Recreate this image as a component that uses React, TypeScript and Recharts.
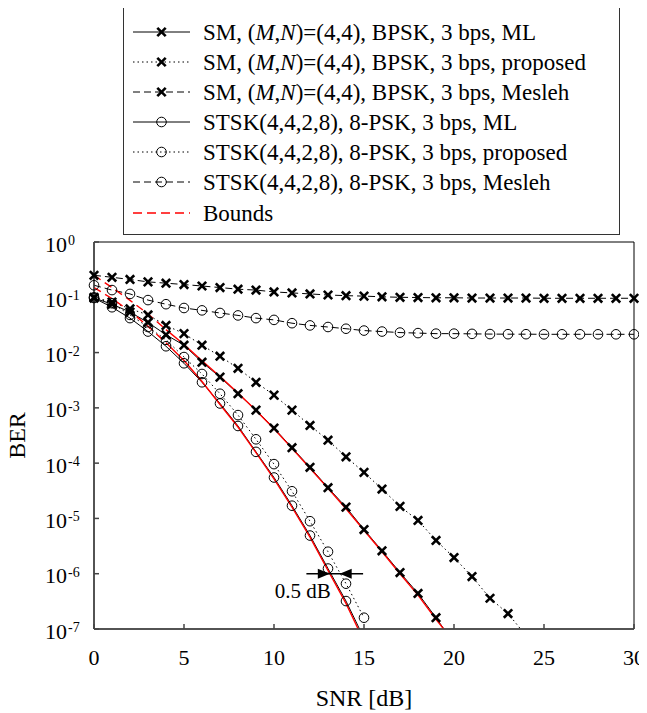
import React from 'react';
import {
  LineChart,
  Line,
  Scatter,
  XAxis,
  YAxis,
  Legend,
  ReferenceArea,
  ReferenceLine,
  ReferenceDot,
} from 'recharts';

const FONT = '"Liberation Serif", "Times New Roman", serif';

// SNR grid in dB, one point per dB
const snrDb = [0, 1, 2, 3, 4, 5, 6, 7, 8, 9, 10, 11, 12, 13, 14, 15, 16, 17, 18, 19, 20, 21, 22, 23, 24, 25, 26, 27, 28, 29, 30];

const xTicks = [0, 5, 10, 15, 20, 25, 30];
const yTicks = [1, 1e-1, 1e-2, 1e-3, 1e-4, 1e-5, 1e-6, 1e-7];

// BER
const smMl = [0.097, 0.075, 0.054, 0.035, 0.021, 0.0136, 0.0067, 0.0036, 0.0018, 9.1e-4, 4.3e-4, 1.9e-4, 8.4e-5, 3.6e-5, 1.6e-5, 6.3e-6, 2.6e-6, 1.05e-6, 4.4e-7, 1.6e-7, 5.5e-8];
const smProposed = [0.1, 0.082, 0.062, 0.048, 0.031, 0.022, 0.0136, 0.0086, 0.0052, 0.0029, 0.0017, 9.1e-4, 4.8e-4, 2.6e-4, 1.3e-4, 6.8e-5, 3.4e-5, 1.65e-5, 9.2e-6, 4.0e-6, 1.96e-6, 8.9e-7, 3.6e-7, 1.9e-7, 7.6e-8];
const smMesleh = [0.25, 0.23, 0.21, 0.19, 0.18, 0.17, 0.16, 0.15, 0.14, 0.135, 0.125, 0.12, 0.115, 0.11, 0.107, 0.105, 0.102, 0.1, 0.099, 0.098, 0.098, 0.097, 0.097, 0.097, 0.097, 0.096, 0.096, 0.096, 0.096, 0.096, 0.096];
const stskMl = [0.097, 0.066, 0.042, 0.024, 0.013, 0.0064, 0.0029, 1.2e-3, 4.7e-4, 1.6e-4, 5.5e-5, 1.7e-5, 4.9e-6, 1.24e-6, 3.2e-7, 6.8e-8];
const stskProposed = [0.1, 0.078, 0.048, 0.029, 0.017, 0.0083, 0.0041, 0.0018, 7.4e-4, 2.7e-4, 9.6e-5, 3.1e-5, 8.9e-6, 2.5e-6, 6.6e-7, 1.6e-7];
const stskMesleh = [0.165, 0.135, 0.115, 0.089, 0.075, 0.064, 0.058, 0.052, 0.047, 0.042, 0.039, 0.034, 0.031, 0.029, 0.027, 0.025, 0.024, 0.023, 0.0225, 0.022, 0.022, 0.0218, 0.0216, 0.0215, 0.0215, 0.0214, 0.0214, 0.0214, 0.0214, 0.0214, 0.0214];
const smBound = [0.25, 0.15, 0.088, 0.05, 0.026, 0.014, 0.0071, 0.0037, 0.00185, 9.0e-4, 4.2e-4, 1.85e-4, 8.1e-5, 3.5e-5, 1.5e-5, 6.1e-6, 2.5e-6, 1.0e-6, 4.1e-7, 1.5e-7, 5.8e-8];
const stskBound = [0.15, 0.095, 0.056, 0.03, 0.015, 0.0072, 0.003, 1.15e-3, 4.5e-4, 1.55e-4, 5.2e-5, 1.6e-5, 4.6e-6, 1.15e-6, 2.9e-7, 6.0e-8];

// the bound curves look dashed only at low SNR
const BOUND_SOLID_FROM = 4;
const BER_FLOOR = 1e-7;

// "0.5 dB" annotation, in data units
const gapY = 1e-6;
const gapLineFrom = 11.8;
const gapLineTo = 14.95;
const gapArrowRight = 13.1;
const gapArrowLeft = 13.65;
const gapTextX = 11.6;
const gapTextY = 4.8e-7;

type Pt = { snr: number; ber: number };

const toPoints = (vals: number[]): Pt[] => vals.map((ber, i) => ({ snr: snrDb[i], ber }));

const visible = (pts: Pt[]) => pts.filter((p) => p.ber >= BER_FLOOR);

const XMark = ({ cx, cy }: any) => {
  if (cx == null || cy == null) return null;
  return (
    <g stroke="#000" strokeWidth={2.6}>
      <line x1={cx - 4.2} y1={cy - 4.2} x2={cx + 4.2} y2={cy + 4.2} />
      <line x1={cx - 4.2} y1={cy + 4.2} x2={cx + 4.2} y2={cy - 4.2} />
    </g>
  );
};

const OMark = ({ cx, cy }: any) => {
  if (cx == null || cy == null) return null;
  return <circle cx={cx} cy={cy} r={4.8} fill="none" stroke="#000" strokeWidth={1} />;
};

const series = [
  { name: 'sm-ml', vals: smMl, dash: undefined, mark: 'x' },
  { name: 'sm-prop', vals: smProposed, dash: '1.5 3', mark: 'x' },
  { name: 'sm-mes', vals: smMesleh, dash: '7 4', mark: 'x' },
  { name: 'stsk-ml', vals: stskMl, dash: undefined, mark: 'o' },
  { name: 'stsk-prop', vals: stskProposed, dash: '1.5 3', mark: 'o' },
  { name: 'stsk-mes', vals: stskMesleh, dash: '7 4', mark: 'o' },
];

const legendRows = [
  { sm: true, tail: 'ML', dash: undefined, mark: 'x' },
  { sm: true, tail: 'proposed', dash: '1.5 3', mark: 'x' },
  { sm: true, tail: 'Mesleh', dash: '7 4', mark: 'x' },
  { sm: false, tail: 'ML', dash: undefined, mark: 'o' },
  { sm: false, tail: 'proposed', dash: '1.5 3', mark: 'o' },
  { sm: false, tail: 'Mesleh', dash: '7 4', mark: 'o' },
];

function LegendBox() {
  const rowY = (i: number) => 25 + i * 30;
  return (
    <div
      style={{
        width: 497,
        height: 229,
        border: '1.5px solid #333',
        boxSizing: 'border-box',
        background: '#fff',
      }}
    >
      <svg width={494} height={226} style={{ display: 'block' }}>
        {legendRows.map((r, i) => {
          const y = rowY(i);
          return (
            <g key={i}>
              <line x1={9} x2={66} y1={y} y2={y} stroke="#000" strokeWidth={1} strokeDasharray={r.dash} />
              {r.mark === 'x' ? <XMark cx={37.5} cy={y} /> : <OMark cx={37.5} cy={y} />}
              <text x={79} y={y + 7.5} fontSize={23} fontFamily={FONT} fill="#000">
                {r.sm ? (
                  <>
                    {'SM, ('}
                    <tspan fontStyle="italic">M</tspan>
                    {','}
                    <tspan fontStyle="italic">N</tspan>
                    {`)=(4,4), BPSK, 3 bps, ${r.tail}`}
                  </>
                ) : (
                  `STSK(4,4,2,8), 8-PSK, 3 bps, ${r.tail}`
                )}
              </text>
            </g>
          );
        })}
        <line x1={9} x2={66} y1={rowY(6) + 1} y2={rowY(6) + 1} stroke="#f00" strokeWidth={1.3} strokeDasharray="9 5" />
        <text x={79} y={rowY(6) + 8.5} fontSize={23} fontFamily={FONT} fill="#000">
          Bounds
        </text>
      </svg>
    </div>
  );
}

const PowTick = ({ x, y, payload }: any) => {
  const exp = Math.round(Math.log10(payload.value));
  return (
    <g>
      <text x={x} y={y + 9.5} textAnchor="end" fontSize={22} fontFamily={FONT} fill="#000">
        10
      </text>
      <text x={x + 1} y={y + 3} textAnchor="start" fontSize={14} fontFamily={FONT} fill="#000">
        {String(exp)}
      </text>
    </g>
  );
};

const SnrTick = ({ x, y, payload }: any) => (
  <text x={x} y={y} dy={15.5} textAnchor="middle" fontSize={22} fontFamily={FONT} fill="#000">
    {payload.value}
  </text>
);

const XTitle = ({ viewBox }: any) => (
  <text
    x={viewBox.x + viewBox.width / 2}
    y={viewBox.y + 77}
    textAnchor="middle"
    fontSize={24}
    fontFamily={FONT}
    fill="#000"
  >
    SNR [dB]
  </text>
);

const YTitle = ({ viewBox }: any) => (
  <text
    transform={`translate(${viewBox.x + 25}, ${viewBox.y + viewBox.height / 2}) rotate(-90)`}
    textAnchor="middle"
    fontSize={24}
    fontFamily={FONT}
    fill="#000"
  >
    BER
  </text>
);

export default function App() {
  const smBoundPts = toPoints(smBound);
  const stskBoundPts = toPoints(stskBound);

  return (
    <div style={{ marginLeft: -8, width: 647, height: 705, background: '#fff', fontFamily: FONT }}>
      <LineChart width={647} height={705} margin={{ top: 234, right: 13, bottom: 0, left: 0 }}>
        <XAxis
          type="number"
          dataKey="snr"
          domain={[0, 30]}
          ticks={xTicks}
          height={84}
          stroke="#444"
          strokeWidth={1.5}
          tickSize={-5}
          tickMargin={25}
          tick={<SnrTick />}
          label={<XTitle />}
        />
        <YAxis
          yAxisId="ber"
          dataKey="ber"
          scale="log"
          domain={[1e-7, 1]}
          ticks={yTicks}
          allowDataOverflow
          width={94}
          stroke="#444"
          strokeWidth={1.5}
          tickSize={-5}
          tickMargin={32}
          tick={<PowTick />}
          label={<YTitle />}
        />
        <YAxis yAxisId="mark" dataKey="ber" scale="log" domain={[1e-7, 1]} hide />

        <ReferenceArea
          yAxisId="ber"
          x1={0}
          x2={30}
          y1={1e-7}
          y2={1}
          fill="none"
          fillOpacity={0}
          stroke="#000"
          strokeWidth={1}
        />

        {series.map((s) => (
          <Line
            key={s.name}
            yAxisId="ber"
            data={toPoints(s.vals)}
            dataKey="ber"
            stroke="#000"
            strokeWidth={1}
            strokeDasharray={s.dash}
            dot={false}
            activeDot={false}
            isAnimationActive={false}
          />
        ))}

        {/* bounds: dashed at low SNR, then running on top of the ML curves */}
        <Line yAxisId="ber" data={smBoundPts.slice(0, BOUND_SOLID_FROM + 1)} dataKey="ber" stroke="#f00" strokeWidth={1.4} strokeDasharray="8 5" dot={false} activeDot={false} isAnimationActive={false} />
        <Line yAxisId="ber" data={smBoundPts.slice(BOUND_SOLID_FROM)} dataKey="ber" stroke="#f00" strokeWidth={1.4} dot={false} activeDot={false} isAnimationActive={false} />
        <Line yAxisId="ber" data={stskBoundPts.slice(0, BOUND_SOLID_FROM + 1)} dataKey="ber" stroke="#f00" strokeWidth={1.4} strokeDasharray="8 5" dot={false} activeDot={false} isAnimationActive={false} />
        <Line yAxisId="ber" data={stskBoundPts.slice(BOUND_SOLID_FROM)} dataKey="ber" stroke="#f00" strokeWidth={1.4} dot={false} activeDot={false} isAnimationActive={false} />

        {series.map((s) => (
          <Scatter
            key={`${s.name}-marks`}
            yAxisId="mark"
            data={visible(toPoints(s.vals))}
            dataKey="ber"
            isAnimationActive={false}
            shape={(p: any) => (s.mark === 'x' ? <XMark cx={p.cx} cy={p.cy} /> : <OMark cx={p.cx} cy={p.cy} />)}
          />
        ))}

        {/* 0.5 dB gap annotation */}
        <ReferenceLine
          yAxisId="ber"
          segment={[
            { x: gapLineFrom, y: gapY },
            { x: gapLineTo, y: gapY },
          ]}
          stroke="#000"
          strokeWidth={1.5}
        />
        <ReferenceDot
          yAxisId="ber"
          x={gapArrowRight}
          y={gapY}
          shape={(p: any) => (
            <polygon points={`${p.cx},${p.cy} ${p.cx - 12},${p.cy - 5} ${p.cx - 12},${p.cy + 5}`} fill="#000" />
          )}
        />
        <ReferenceDot
          yAxisId="ber"
          x={gapArrowLeft}
          y={gapY}
          shape={(p: any) => (
            <polygon points={`${p.cx},${p.cy} ${p.cx + 12},${p.cy - 5} ${p.cx + 12},${p.cy + 5}`} fill="#000" />
          )}
        />
        <ReferenceDot
          yAxisId="ber"
          x={gapTextX}
          y={gapTextY}
          shape={(p: any) => (
            <text x={p.cx} y={p.cy + 7} textAnchor="middle" fontSize={21} fontFamily={FONT} fill="#000">
              0.5 dB
            </text>
          )}
        />

        <Legend
          layout="horizontal"
          verticalAlign="middle"
          content={() => <LegendBox />}
          wrapperStyle={{ left: 123, top: -2, width: 497, height: 229 }}
        />
      </LineChart>
    </div>
  );
}
